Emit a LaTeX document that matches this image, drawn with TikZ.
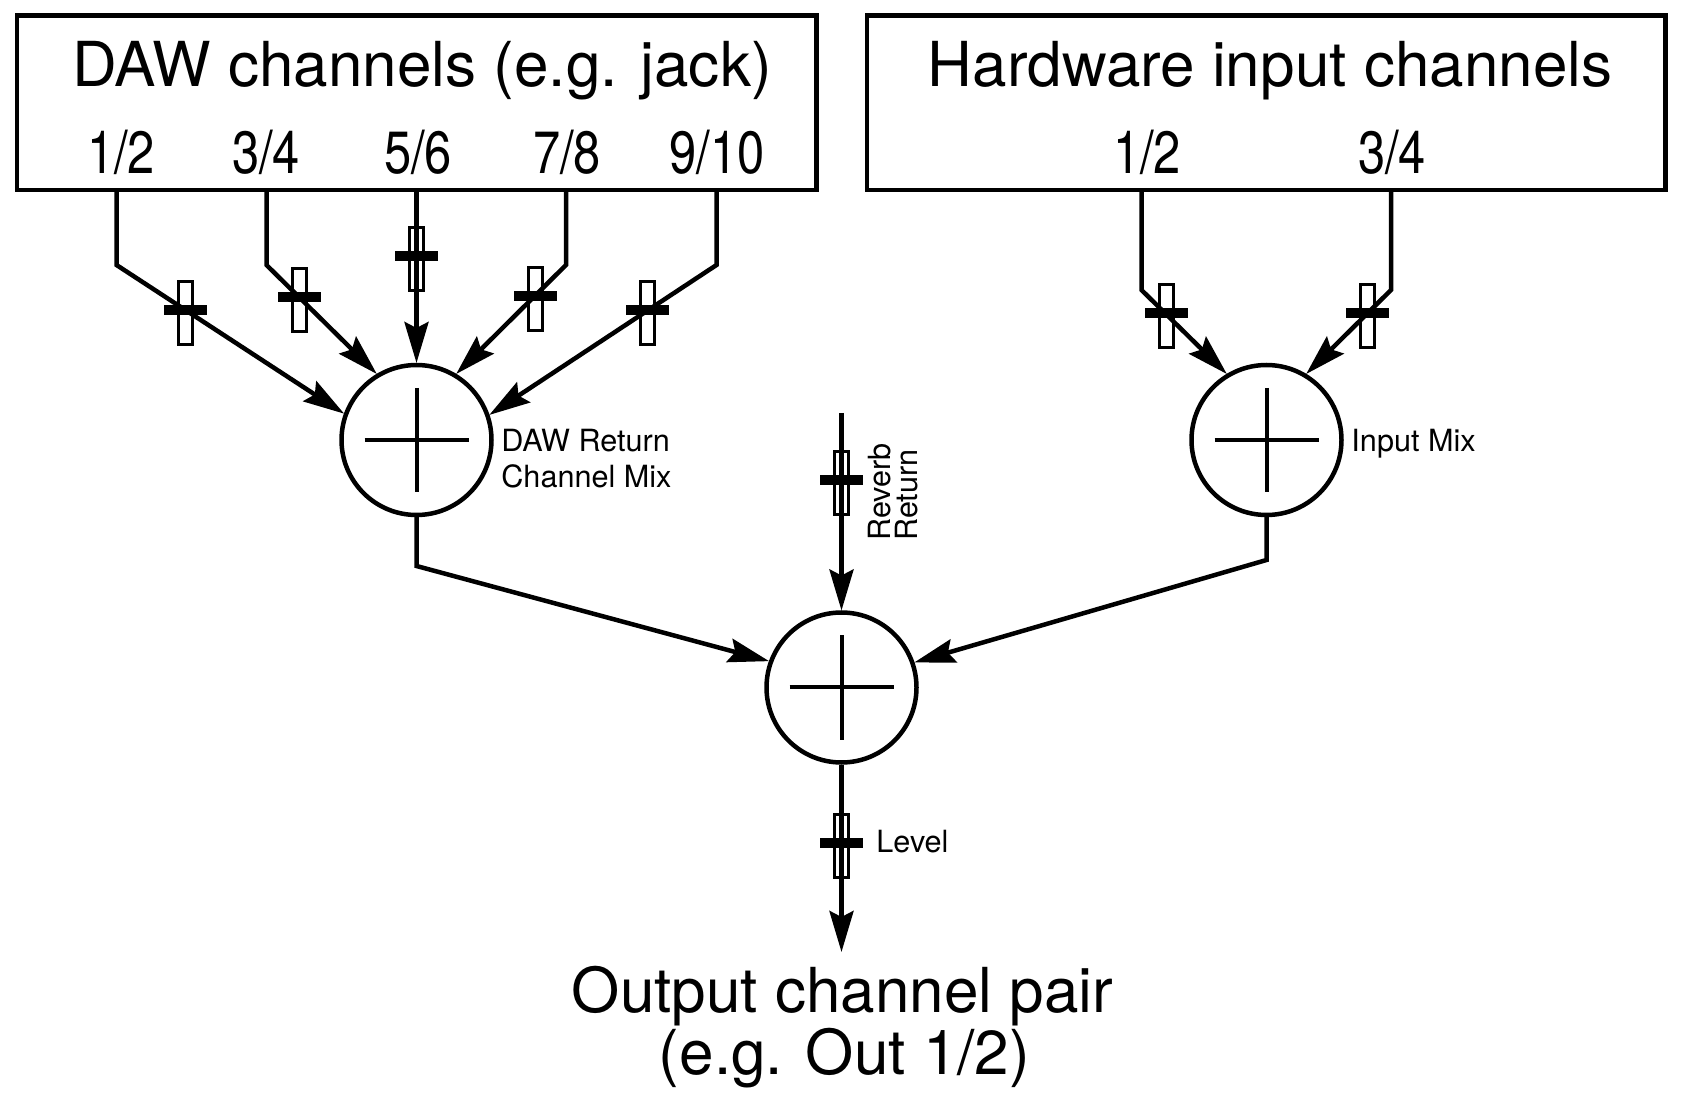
\documentclass[tikz,border=0pt]{standalone}
\usepackage{fontspec}
\setmainfont{TeX Gyre Heros}
\usepackage{graphicx}
\usetikzlibrary{arrows.meta}
\begin{document}
\begin{tikzpicture}[x=0.5pt,y=-0.5pt,
  big/.style={font=\fontsize{31}{31}\selectfont, inner sep=0pt, anchor=base},
  chan/.style={font=\fontsize{29.8}{30}\selectfont, inner sep=0pt, anchor=base},
  small/.style={font=\fontsize{15.3}{18}\selectfont, inner sep=0pt, anchor=base west},
  box/.style={draw, line width=2.25pt, inner sep=0pt},
  mixer/.style={draw, circle, line width=2.25pt, minimum size=75pt, inner sep=0pt, outer sep=1pt},
  sig/.style={line width=2.25pt},
  arr/.style={sig, -{Stealth[length=20.5pt,width=12pt,inset=3pt]}},
  cross/.style={line width=2pt},
  fader/.pic={
    \draw[line width=1.5pt, fill=white] (-7,-28.5) rectangle (7,34.5);
    \fill (-21.5,-5) rectangle (21.5,5);
  }
]
\useasboundingbox (0,0) rectangle (1683,1096);

% boxes
\node[box, minimum width=399.75pt, minimum height=87.25pt] (daw) at (416.75,102.75) {};
\node[box, minimum width=399.25pt, minimum height=87.25pt] (hw) at (1266.25,102.75) {};
\node[big] (dawtitle) at (422,87) {DAW channels (e.g. jack)};
\node[big] (hwtitle) at (1270,87) {Hardware input channels};

\node[chan] (c12) at (121,174) {\scalebox{0.82}[1]{1/2}};
\node[chan] (c34) at (266,174) {\scalebox{0.82}[1]{3/4}};
\node[chan] (c56) at (418,174) {\scalebox{0.82}[1]{5/6}};
\node[chan] (c78) at (567,174) {\scalebox{0.82}[1]{7/8}};
\node[chan] (c910) at (717,174) {\scalebox{0.82}[1]{9/10}};
\node[chan] (h12) at (1147,174) {\scalebox{0.82}[1]{1/2}};
\node[chan] (h34) at (1392,174) {\scalebox{0.82}[1]{3/4}};

% mixers
\node[mixer] (dmix) at (416.5,440) {};
\node[mixer] (hmix) at (1266.5,440) {};
\node[mixer] (mmix) at (841.5,687.5) {};
\foreach \m in {dmix,hmix,mmix}{
  \draw[cross] (\m.center) ++(-52,0) -- ++(104,0);
  \draw[cross] (\m.center) ++(0,-52) -- ++(0,104);
}

% labels
\node[small] (dawret) at (501,452) {DAW Return};
\node[small] (dawmix) at (501,488) {Channel Mix};
\node[small] (inmix) at (1351,452) {Input Mix};
\node[small, rotate=90] (rev) at (890,541) {Reverb};
\node[small, rotate=90] (ret) at (917,541) {Return};
\node[small] (lvl) at (876,852) {Level};
\node[big] (out1) at (842.5,1012) {Output channel pair};
\node[big] (out2) at (844.5,1074) {(e.g. Out 1/2)};

% faders
\pic at (185,310) {fader};
\pic at (299,297.5) {fader};
\pic at (416.5,256) {fader};
\pic at (535,296) {fader};
\pic at (647,310) {fader};
\pic at (1166,313) {fader};
\pic at (1367,313) {fader};
\pic at (841.5,480) {fader};
\pic at (841.5,843) {fader};

% bends and free ends
\coordinate (b1) at (116.5,265);
\coordinate (b2) at (266.5,265);
\coordinate (b3) at (416.5,265);
\coordinate (b4) at (566,265);
\coordinate (b5) at (716.5,265);
\coordinate (hb1) at (1141.5,290);
\coordinate (hb2) at (1391,290);
\coordinate (dd) at (416.5,566);
\coordinate (hd) at (1266.5,560);
\coordinate (revtop) at (841.5,413);
\coordinate (outtip) at (841.5,952);

% connectors
\draw[arr] (daw.south -| b1) -- (b1) -- (dmix.160);
\draw[arr] (daw.south -| b2) -- (b2) -- (dmix.121);
\draw[arr] (daw.south -| b3) -- (dmix.north);
\draw[arr] (daw.south -| b4) -- (b4) -- (dmix.59);
\draw[arr] (daw.south -| b5) -- (b5) -- (dmix.19);
\draw[arr] (hw.south -| hb1) -- (hb1) -- (hmix.121);
\draw[arr] (hw.south -| hb2) -- (hb2) -- (hmix.59);
\draw[arr] (dmix.south) -- (dd) -- (mmix.160);
\draw[arr] (hmix.south) -- (hd) -- (mmix.19);
\draw[arr] (revtop) -- (mmix.north);
\draw[arr] (mmix.south) -- (outtip);
\end{tikzpicture}
\end{document}
